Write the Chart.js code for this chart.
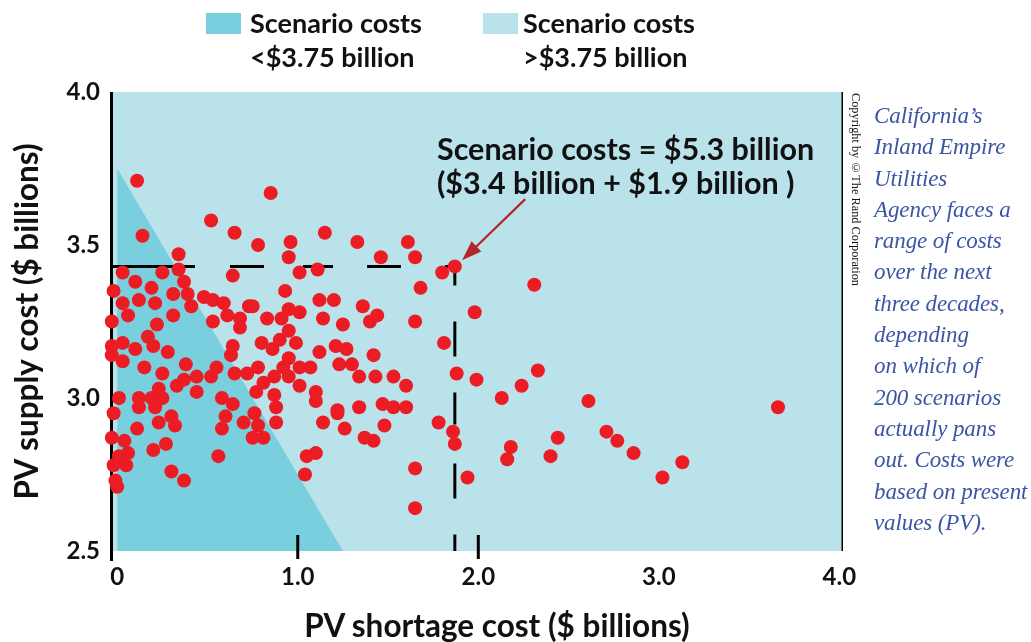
<!DOCTYPE html>
<html>
<head>
<meta charset="utf-8">
<script src="https://cdn.jsdelivr.net/npm/chart.js@4.4.1/dist/chart.umd.min.js"></script>
<style>
  body { margin: 0; background: #fff; }
  #page { position: relative; width: 1031px; height: 642px; overflow: hidden; font-family: Lato, "Open Sans", sans-serif; }
  #chart { position: absolute; left: 0; top: 0; }
  .swatch { position: absolute; top: 13px; width: 35px; height: 21px; }
  .legtext { position: absolute; top: 6px; font-weight: 700; font-size: 27px; line-height: 34px; color: #111; white-space: nowrap; }
  #note { position: absolute; left: 437px; top: 131px; font-weight: 700; font-size: 30.5px; line-height: 34px; color: #111; white-space: nowrap; }
  #xtitle { position: absolute; left: 0; width: 994px; top: 606px; text-align: center; font-weight: 700; font-size: 31.5px; line-height: 38px; color: #111; }
  #caption { position: absolute; left: 874px; top: 100px; font-family: "Liberation Serif", serif; font-style: italic; font-size: 23px; letter-spacing: -0.1px; line-height: 31.3px; color: #3a55a5; white-space: nowrap; }
  #copy { position: absolute; left: 848px; top: 93px; writing-mode: vertical-rl; font-family: "Liberation Serif", serif; font-size: 12.3px; color: #111; white-space: nowrap; }
</style>
</head>
<body>
<div id="page">
  <canvas id="chart" width="1031" height="642"></canvas>
  <div class="swatch" style="left:206px;background:#7acfdf"></div>
  <div class="legtext" style="left:250px">Scenario costs<br>&lt;$3.75 billion</div>
  <div class="swatch" style="left:483px;background:#b9e2ea"></div>
  <div class="legtext" style="left:523px">Scenario costs<br>&gt;$3.75 billion</div>
  <div id="note">Scenario costs = $5.3 billion<br>($3.4 billion + $1.9 billion )</div>
  <div id="xtitle">PV shortage cost ($ billions)</div>
  <div id="copy">Copyright by ©The Rand Corporation</div>
  <div id="caption">California’s<br>Inland Empire<br>Utilities<br>Agency faces a<br>range of costs<br>over the next<br>three decades,<br>depending<br>on which of<br>200 scenarios<br>actually pans<br>out. Costs were<br>based on present<br>values (PV).</div>
</div>
<script>
// scenario results, $ billions
const shortageCost = [
  0.11,0.52,0.65,0.14,0.34,0.03,0.25,0.34,0.64,0.37,0.10,0.19,-0.02,0.31,
  0.85,1.15,1.33,0.78,0.96,0.95,1.11,1.01,1.46,0.93,
  1.61,1.65,1.80,1.87,1.68,2.31,
  0.03,0.12,0.21,0.39,0.41,0.48,0.53,0.59,0.73,
  0.06,0.31,-0.03,0.22,0.53,0.61,0.68,0.68,
  0.17,0.20,0.03,-0.03,0.10,0.28,0.64,0.63,-0.03,0.03,
  0.38,0.15,0.55,0.65,0.25,0.72,0.37,0.44,0.52,0.33,
  0.23,0.44,0.01,0.12,0.19,0.25,0.58,0.64,0.12,0.21,
  0.75,1.12,1.20,1.36,0.95,1.01,0.83,0.91,1.14,1.25,
  1.40,1.44,0.95,0.90,0.80,0.99,0.86,1.12,1.21,1.27,
  1.42,0.95,0.78,0.92,1.01,1.07,1.23,1.30,0.87,0.95,
  1.34,1.43,0.81,1.01,0.77,0.87,1.10,1.10,1.34,1.47,0.88,1.22,
  1.98,1.65,1.81,1.88,1.99,1.53,1.60,2.13,2.24,1.53,1.60,2.33,
  -0.02,0.30,0.23,0.32,0.11,-0.03,0.04,0.27,0.20,0.06,0.01,-0.02,0.05,0.56,0.30,0.37,-0.01,0.00,0.60,0.58,0.70,
  0.76,0.88,0.78,0.75,0.81,1.14,1.22,1.26,1.48,1.37,1.42,1.05,1.10,1.04,
  1.78,1.86,1.87,2.18,2.16,1.65,1.94,1.65,
  2.61,2.44,2.40,2.71,2.77,2.86,3.02,3.13,3.66
];
const supplyCost = [
  3.71,3.58,3.54,3.53,3.47,3.41,3.41,3.42,3.40,3.38,3.38,3.36,3.35,3.34,
  3.67,3.54,3.51,3.50,3.51,3.46,3.42,3.41,3.46,3.35,
  3.51,3.46,3.41,3.43,3.36,3.37,
  3.31,3.32,3.31,3.34,3.30,3.33,3.32,3.31,3.30,
  3.27,3.27,3.25,3.24,3.25,3.27,3.26,3.23,
  3.20,3.17,3.18,3.17,3.16,3.15,3.17,3.14,3.14,3.12,
  3.11,3.10,3.10,3.08,3.08,3.08,3.06,3.07,3.07,3.04,
  3.03,3.02,3.00,3.00,3.00,3.00,3.00,2.98,2.97,2.97,
  3.30,3.32,3.32,3.30,3.29,3.28,3.26,3.26,3.26,3.24,
  3.25,3.27,3.22,3.19,3.18,3.18,3.16,3.15,3.17,3.16,
  3.14,3.13,3.10,3.10,3.10,3.10,3.11,3.11,3.07,3.07,
  3.07,3.07,3.05,3.04,3.02,3.01,3.02,2.99,2.97,2.98,2.97,2.96,
  3.28,3.25,3.18,3.08,3.06,3.07,3.04,3.00,3.04,2.97,2.97,3.09,
  2.95,2.94,2.92,2.91,2.90,2.87,2.86,2.85,2.83,2.82,2.81,2.78,2.78,2.81,2.76,2.73,2.73,2.71,2.94,2.90,2.92,
  2.95,2.92,2.91,2.87,2.87,2.92,2.95,2.90,2.91,2.87,2.86,2.81,2.82,2.75,
  2.92,2.89,2.85,2.84,2.80,2.77,2.74,2.64,
  2.99,2.87,2.81,2.89,2.86,2.82,2.74,2.79,2.97
];
const xTicks = [0, 1, 2, 3, 4];
const yTicks = [2.5, 3.0, 3.5, 4.0];
const xTickMarks = [1, 2];
// total cost = 3.75 boundary (shortage + supply)
const boundaryX = [0, 1.25, 0];
const boundaryY = [3.75, 2.5, 2.5];
// highlighted scenario and arrow (tail -> head)
const highlight = { x: 1.87, y: 3.43 };
const arrowX = [2.26, 1.91];
const arrowY = [3.65, 3.45];

const lightFill = '#b9e2ea';
const darkFill = '#7acfdf';
const dotRed = '#ec1c24';
const hDash = [85, 35, 34, 39, 30, 34, 34, 44, 10];
const vDash = [19, 36, 35, 36, 32, 39, 35, 36, 40];

const points = shortageCost.map((v, i) => ({ x: v, y: supplyCost[i] }));

const backdrop = {
  id: 'backdrop',
  beforeDatasetsDraw(chart) {
    const { ctx, chartArea: a, scales: { x, y } } = chart;
    ctx.save();
    ctx.fillStyle = lightFill;
    ctx.fillRect(a.left, a.top, a.right - a.left, a.bottom - a.top);
    ctx.fillStyle = darkFill;
    ctx.beginPath();
    boundaryX.forEach((v, i) => {
      const px = x.getPixelForValue(v), py = y.getPixelForValue(boundaryY[i]);
      if (i === 0) ctx.moveTo(px, py); else ctx.lineTo(px, py);
    });
    ctx.closePath();
    ctx.fill();

    // frame and ticks
    ctx.strokeStyle = '#000';
    ctx.lineWidth = 3;
    ctx.beginPath();
    ctx.moveTo(a.left + 1.5, a.top);
    ctx.lineTo(a.left + 1.5, a.bottom + 10);
    xTickMarks.forEach(v => {
      const px = x.getPixelForValue(v);
      ctx.moveTo(px, a.bottom - 16);
      ctx.lineTo(px, a.bottom + 8);
    });
    ctx.stroke();
    ctx.lineWidth = 1.5;
    ctx.beginPath();
    ctx.moveTo(a.right - 0.75, a.top);
    ctx.lineTo(a.right - 0.75, a.bottom);
    ctx.stroke();

    // dashed guides to the highlighted scenario
    const hx = x.getPixelForValue(highlight.x), hy = y.getPixelForValue(highlight.y);
    ctx.lineWidth = 3;
    ctx.setLineDash(hDash);
    ctx.beginPath();
    ctx.moveTo(a.left, hy);
    ctx.lineTo(hx, hy);
    ctx.stroke();
    ctx.setLineDash(vDash);
    ctx.beginPath();
    ctx.moveTo(hx, hy);
    ctx.lineTo(hx, a.bottom);
    ctx.stroke();
    ctx.restore();
  },
  afterDatasetsDraw(chart) {
    const { ctx, scales: { x, y } } = chart;
    const x0 = x.getPixelForValue(arrowX[0]), y0 = y.getPixelForValue(arrowY[0]);
    const x1 = x.getPixelForValue(arrowX[1]), y1 = y.getPixelForValue(arrowY[1]);
    const ang = Math.atan2(y1 - y0, x1 - x0);
    const c = Math.cos(ang), s = Math.sin(ang);
    ctx.save();
    ctx.strokeStyle = '#b3262c';
    ctx.fillStyle = '#b3262c';
    ctx.lineWidth = 2.2;
    ctx.beginPath();
    ctx.moveTo(x0, y0);
    ctx.lineTo(x1 - 12 * c, y1 - 12 * s);
    ctx.stroke();
    ctx.beginPath();
    ctx.moveTo(x1, y1);
    ctx.lineTo(x1 - 20 * c + 7 * s, y1 - 20 * s - 7 * c);
    ctx.lineTo(x1 - 20 * c - 7 * s, y1 - 20 * s + 7 * c);
    ctx.closePath();
    ctx.fill();
    ctx.restore();
  }
};

new Chart(document.getElementById('chart'), {
  type: 'scatter',
  data: {
    datasets: [{
      data: points,
      backgroundColor: dotRed,
      borderColor: dotRed,
      borderWidth: 0,
      pointRadius: 7,
      pointHoverRadius: 7,
      clip: false
    }]
  },
  options: {
    responsive: false,
    animation: false,
    events: [],
    layout: { padding: { top: 92, right: 188, bottom: 0, left: 0 } },
    plugins: { legend: { display: false }, tooltip: { enabled: false } },
    scales: {
      x: {
        type: 'linear',
        min: -0.04,
        max: 4.02,
        afterBuildTicks: s => { s.ticks = xTicks.map(v => ({ value: v })); },
        afterFit: s => { s.height = 91; },
        grid: { display: false, drawTicks: false },
        border: { display: false },
        ticks: {
          padding: 12,
          color: '#111',
          font: { family: 'Lato', weight: 'bold', size: 24 },
          callback: v => v === 0 ? '0' : v.toFixed(1)
        }
      },
      y: {
        min: 2.5,
        max: 4.0,
        afterBuildTicks: s => { s.ticks = yTicks.map(v => ({ value: v })); },
        afterFit: s => { s.width = 110; },
        grid: { display: false, drawTicks: false },
        border: { display: false },
        ticks: {
          padding: 10,
          color: '#111',
          font: { family: 'Lato', weight: 'bold', size: 24 },
          callback: v => v.toFixed(1)
        },
        title: {
          display: true,
          text: 'PV supply cost ($ billions)',
          color: '#111',
          font: { family: 'Lato', weight: 'bold', size: 31.5 },
          padding: { top: 9, bottom: 0 }
        }
      }
    }
  },
  plugins: [backdrop]
});
</script>
</body>
</html>
